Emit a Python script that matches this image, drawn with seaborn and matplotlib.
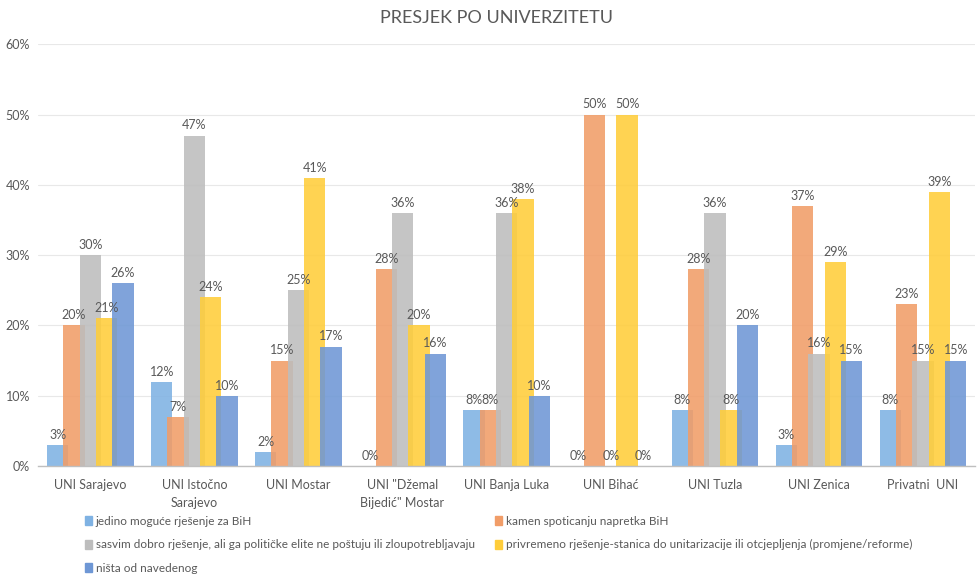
import pandas as pd
import seaborn as sns
import matplotlib.pyplot as plt
from matplotlib.patches import Patch

# Chart data
universities = ['UNI Sarajevo', 'UNI Istočno\nSarajevo', 'UNI Mostar', 'UNI "Džemal\nBijedić" Mostar',
                'UNI Banja Luka', 'UNI Bihać', 'UNI Tuzla', 'UNI Zenica', 'Privatni  UNI']
series_names = ['jedino moguće rješenje za BiH',
                'kamen spoticanju napretka BiH',
                'sasvim dobro rješenje, ali ga političke elite ne poštuju ili zloupotrebljavaju',
                'privremeno rješenje-stanica do unitarizacije ili otcjepljenja (promjene/reforme)',
                'ništa od navedenog']
jedino = [3, 12, 2, 0, 8, 0, 8, 3, 8]
kamen = [20, 7, 15, 28, 8, 50, 28, 37, 23]
sasvim = [30, 47, 25, 36, 36, 0, 36, 16, 15]
privremeno = [21, 24, 41, 20, 38, 50, 8, 29, 39]
nista = [26, 10, 17, 16, 10, 0, 20, 15, 15]
colors = ['#7fb2e3', '#f19d68', '#bdbdbd', '#ffcd3a', '#6e97d5']

# long form table for seaborn
rows = []
for name, vals in zip(series_names, [jedino, kamen, sasvim, privremeno, nista]):
    for uni, v in zip(universities, vals):
        rows.append({'uni': uni, 'serija': name, 'vrijednost': v})
df = pd.DataFrame(rows)

sns.set_theme(style='white')
plt.rcParams['font.family'] = ['Lato', 'DejaVu Sans']
text_col = '#595959'

fig = plt.figure(figsize=(9.79, 5.74), dpi=100)
ax = fig.add_axes([0.039, 0.188, 0.957, 0.735])

sns.barplot(data=df, x='uni', y='vrijednost', hue='serija', hue_order=series_names,
            palette=colors, width=0.784, errorbar=None, saturation=1, alpha=0.88,
            linewidth=0, ax=ax)
ax.get_legend().remove()

# Excel style overlapping bars: widen each bar around its centre
bar_w = 0.205
for cont in ax.containers:
    for p in cont.patches:
        c = p.get_x() + p.get_width() / 2
        p.set_width(bar_w)
        p.set_x(c - bar_w / 2)
    ax.bar_label(cont, labels=[f'{int(round(b.get_height()))}%' for b in cont.patches],
                 padding=3, fontsize=9, color=text_col)

ax.set_ylim(0, 60)
ax.set_xlim(-0.5, len(universities) - 0.5)
ax.set_yticks(range(0, 61, 10))
ax.set_yticklabels([f'{t}%' for t in range(0, 61, 10)], fontsize=9, color=text_col)
ax.tick_params(axis='x', labelsize=9, colors=text_col, length=0, pad=9)
ax.tick_params(axis='y', length=0, pad=6)
for lbl in ax.get_xticklabels():
    lbl.set_linespacing(1.6)
ax.set_xlabel('')
ax.set_ylabel('')
ax.yaxis.grid(True, color='#e8e8e8', linewidth=0.8)
ax.set_axisbelow(True)
for s in ['top', 'right', 'left']:
    ax.spines[s].set_visible(False)
ax.spines['bottom'].set_color('#bfbfbf')
ax.spines['bottom'].set_linewidth(1)

fig.text(0.507, 0.968, 'PRESJEK PO UNIVERZITETU', ha='center', va='center',
         fontsize=13, color=text_col, fontweight='normal')

# legend in two columns, row order as in the original
handles = [Patch(color=c, label=n) for c, n in zip(colors, series_names)]
leg_kw = dict(loc='upper left', frameon=False, fontsize=8.5, labelcolor=text_col,
              handlelength=0.55, handleheight=0.8, handletextpad=0.35,
              labelspacing=1.05, borderaxespad=0, borderpad=0)
fig.legend([handles[i] for i in [0, 2, 4]], [series_names[i] for i in [0, 2, 4]],
           bbox_to_anchor=(0.087, 0.101), **leg_kw)
fig.legend([handles[i] for i in [1, 3]], [series_names[i] for i in [1, 3]],
           bbox_to_anchor=(0.506, 0.101), **leg_kw)

fig.savefig('out.png', dpi=100)
